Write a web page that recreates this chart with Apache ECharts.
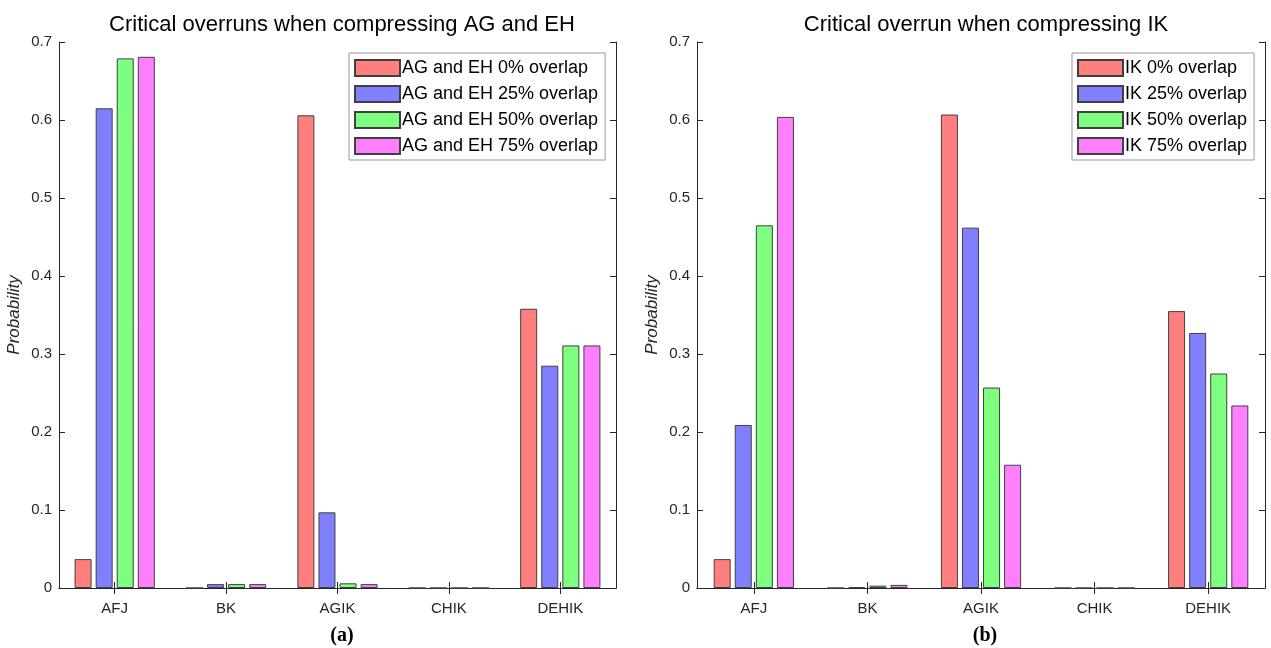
<!DOCTYPE html>
<html>
<head>
<meta charset="utf-8">
<title>Critical overruns</title>
<script src="https://cdn.jsdelivr.net/npm/echarts@6/dist/echarts.min.js"></script>
<style>
  html, body { margin: 0; padding: 0; background: #fff; }
  #main { width: 1271px; height: 648px; }
</style>
</head>
<body>
<div id="main"></div>
<script>
// categories (paths)
var paths = ['AFJ', 'BK', 'AGIK', 'CHIK', 'DEHIK'];
var yTicks = [0, 0.1, 0.2, 0.3, 0.4, 0.5, 0.6, 0.7];

// (a) compressing AG and EH
var namesA = ['AG and EH 0% overlap', 'AG and EH 25% overlap', 'AG and EH 50% overlap', 'AG and EH 75% overlap'];
var agEh0 = [0.037, 0, 0.606, 0, 0.358];
var agEh25 = [0.615, 0.005, 0.097, 0, 0.285];
var agEh50 = [0.679, 0.005, 0.006, 0, 0.311];
var agEh75 = [0.681, 0.005, 0.005, 0, 0.311];

// (b) compressing IK
var namesB = ['IK 0% overlap', 'IK 25% overlap', 'IK 50% overlap', 'IK 75% overlap'];
var ik0 = [0.037, 0, 0.607, 0, 0.355];
var ik25 = [0.209, 0.001, 0.462, 0, 0.327];
var ik50 = [0.465, 0.003, 0.257, 0, 0.275];
var ik75 = [0.604, 0.004, 0.158, 0, 0.234];

var colors = ['#ff7f7f', '#7f7fff', '#7fff7f', '#ff7fff'];
var font = 'Liberation Sans, Arial, sans-serif';
var serif = 'Liberation Serif, Times New Roman, serif';

var chart = echarts.init(document.getElementById('main'));

function xAx(grid, pos) {
  return {
    type: 'category', gridIndex: grid, position: pos, data: paths,
    axisLine: { show: true, lineStyle: { color: '#262626', width: 1 } },
    axisTick: { show: true, inside: true, alignWithLabel: true, length: 6, lineStyle: { color: '#262626' } },
    axisLabel: { show: pos === 'bottom', color: '#262626', fontSize: 15, fontFamily: font, margin: 13 },
    splitLine: { show: false }
  };
}
function yAx(grid, pos) {
  return {
    type: 'value', gridIndex: grid, position: pos, min: 0, max: 0.7, interval: 0.1,
    name: pos === 'left' ? 'Probability' : '',
    nameLocation: 'middle', nameGap: 36,
    nameTextStyle: { fontStyle: 'italic', fontSize: 17, color: '#262626', fontFamily: font },
    axisLine: { show: true, lineStyle: { color: '#262626', width: 1 } },
    axisTick: { show: true, inside: true, length: 6, lineStyle: { color: '#262626' } },
    axisLabel: { show: pos === 'left', color: '#262626', fontSize: 15, fontFamily: font, margin: 7 },
    splitLine: { show: false }
  };
}
function bars(name, data, i, grid) {
  return {
    name: name, type: 'bar', data: data,
    xAxisIndex: grid * 2, yAxisIndex: grid * 2,
    barWidth: 17, barGap: '24%',
    itemStyle: { color: colors[i], borderColor: '#404040', borderWidth: 1 }
  };
}
function legendBox(names, left) {
  return {
    data: names, orient: 'vertical', left: left, top: 53,
    itemWidth: 45, itemHeight: 16, itemGap: 8,
    padding: [6, 7, 5, 5],
    borderColor: '#999', borderWidth: 1, borderRadius: 0, backgroundColor: '#fff',
    icon: 'rect', selectedMode: false,
    textStyle: { fontSize: 18, color: '#000', fontFamily: font, padding: [0, 0, 0, -3] }
  };
}

var seriesA = [agEh0, agEh25, agEh50, agEh75];
var seriesB = [ik0, ik25, ik50, ik75];
var series = [];
seriesA.forEach(function(d, i) { series.push(bars(namesA[i], d, i, 0)); });
seriesB.forEach(function(d, i) { series.push(bars(namesB[i], d, i, 1)); });

var option = {
  animation: false,
  backgroundColor: '#fff',
  color: colors,
  title: [
    { text: 'Critical overruns when compressing AG and EH', left: 337, top: 9, textAlign: 'center',
      textStyle: { fontSize: 22, fontWeight: 'normal', color: '#000', fontFamily: font } },
    { text: 'Critical overrun when compressing IK', left: 981, top: 9, textAlign: 'center',
      textStyle: { fontSize: 22, fontWeight: 'normal', color: '#000', fontFamily: font } },
    { text: '(a)', left: 337, top: 621, textAlign: 'center',
      textStyle: { fontSize: 20, fontWeight: 'bold', color: '#000', fontFamily: serif } },
    { text: '(b)', left: 980, top: 621, textAlign: 'center',
      textStyle: { fontSize: 20, fontWeight: 'bold', color: '#000', fontFamily: serif } }
  ],
  legend: [legendBox(namesA, 349), legendBox(namesB, 1072)],
  grid: [
    { left: 59, right: 655, top: 42, bottom: 60 },
    { left: 697, right: 6, top: 42, bottom: 60 }
  ],
  xAxis: [xAx(0, 'bottom'), xAx(0, 'top'), xAx(1, 'bottom'), xAx(1, 'top')],
  yAxis: [yAx(0, 'left'), yAx(0, 'right'), yAx(1, 'left'), yAx(1, 'right')],
  series: series
};
chart.setOption(option);
</script>
</body>
</html>
